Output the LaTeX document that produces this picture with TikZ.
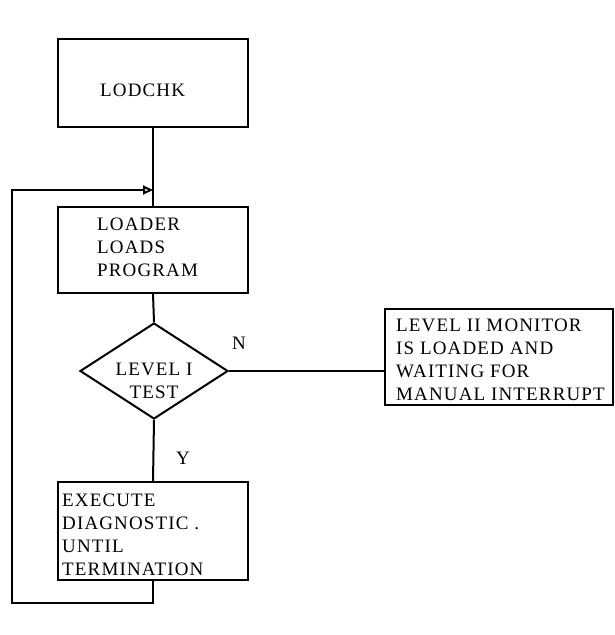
\documentclass[tikz,border=0pt]{standalone}
\usepackage{fontspec}
\setmainfont{Liberation Serif}[LetterSpace=6]
\usetikzlibrary{shapes.geometric,arrows.meta}
\begin{document}
\begin{tikzpicture}[x=1pt,y=-1pt,
  every node/.style={font=\fontsize{19}{23}\selectfont},
  box/.style={draw,line width=2pt,minimum width=190pt,minimum height=88pt,inner sep=0pt},
  txt/.style={align=left,inner sep=0pt,anchor=west},
  conn/.style={line width=2pt}]
\useasboundingbox (0,0) rectangle (614,635);
\node[box] (lod) at (153,83) {};
\node[txt] (lodt) at (100,90) {LODCHK};
\node[box,minimum height=86pt] (ldr) at (153,250) {};
\node[txt] (ldrt) at (97,247) {LOADER\\LOADS\\PROGRAM};
\node[diamond,draw,line width=2pt,minimum width=148pt,minimum height=96pt,inner sep=0pt] (dia) at (154,371) {};
\node[align=center,inner sep=0pt] (diat) at (154,381) {LEVEL I\\TEST};
\node[draw,line width=2pt,minimum width=228pt,minimum height=96pt,inner sep=0pt] (mon) at (499,357) {};
\node[txt] (mont) at (396,360) {LEVEL II MONITOR\\IS LOADED AND\\WAITING FOR\\MANUAL INTERRUPT};
\node[box,minimum height=98pt] (exe) at (153,531) {};
\node[txt] (exet) at (62,535) {EXECUTE\\DIAGNOSTIC .\\UNTIL\\TERMINATION};
\node (n) at (239,343) {N};
\node (y) at (183,458) {Y};
\coordinate (c1) at (153,603);
\coordinate (c2) at (12,603);
\coordinate (c3) at (12,190);
\coordinate (c4) at (153,190);
\draw[conn] (lod.south) -- (ldr.north);
\draw[conn] (ldr.south) -- (dia.north);
\draw[conn] (dia.east) -- (dia.east -| mon.west);
\draw[conn] (dia.south) -- (exe.north);
\draw[conn,-{Triangle[open,length=10pt,width=9pt]}] (exe.south) -- (c1) -- (c2) -- (c3) -- (c4);
\end{tikzpicture}
\end{document}
